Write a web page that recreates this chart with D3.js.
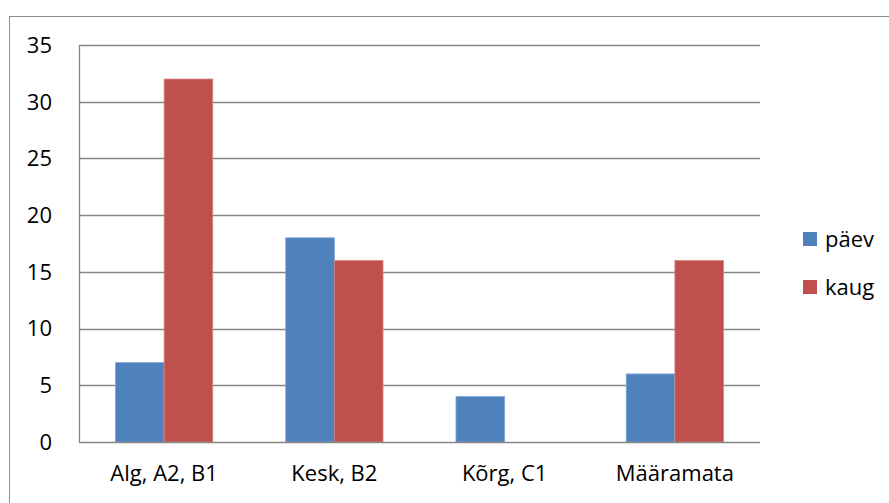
<!DOCTYPE html>
<html>
<head>
<meta charset="utf-8">
<script src="https://cdn.jsdelivr.net/npm/d3@7"></script>
<style>
  body { margin: 0; background: #fff; }
  text { font-family: "Open Sans", "Liberation Sans", sans-serif; fill: #000; }
</style>
</head>
<body>
<div class="container"></div>
<script>
var categories = ["Alg, A2, B1", "Kesk, B2", "Kõrg, C1", "Määramata"];
var seriesNames = ["päev", "kaug"];
var paev = [7, 18, 4, 6];
var kaug = [32, 16, 0, 16];
var yTicks = [0, 5, 10, 15, 20, 25, 30, 35];
var colors = ["#4F81BD", "#C0504D"];

(function(){
  var W = 889, H = 503;
  var plot = {left: 79, right: 760, top: 45, bottom: 442};
  var fs = 22;

  var svg = d3.select(".container").append("svg")
      .attr("width", W).attr("height", H);

  // outer chart frame
  svg.append("rect")
      .attr("x", 9.5).attr("y", 16.5)
      .attr("width", W + 10).attr("height", H + 10)
      .attr("fill", "none").attr("stroke", "#8c8c8c");

  var x0 = d3.scaleBand().domain(categories)
      .range([plot.left, plot.right]).padding(0);
  var barW = x0.bandwidth() / 3.5;
  var x1 = d3.scaleBand().domain(seriesNames)
      .range([0, barW * 2]);
  var y = d3.scaleLinear().domain([0, 35]).range([plot.bottom, plot.top]);

  // grid
  svg.append("g").selectAll("line")
    .data(yTicks.filter(function(d){ return d > 0; }))
    .enter().append("line")
      .attr("x1", plot.left).attr("x2", plot.right)
      .attr("y1", function(d){ return Math.round(y(d)) + 0.5; })
      .attr("y2", function(d){ return Math.round(y(d)) + 0.5; })
      .attr("stroke", "#868686").attr("stroke-width", 1.3);

  var rows = categories.map(function(c, i) {
    return {cat: c, vals: [paev[i], kaug[i]]};
  });

  var groups = svg.append("g").selectAll("g")
    .data(rows)
    .enter().append("g")
      .attr("transform", function(d){
        return "translate(" + (x0(d.cat) + x0.bandwidth() / 2 - barW) + ",0)";
      });

  groups.selectAll("rect")
    .data(function(d){ return d.vals.map(function(v, j){ return {s: seriesNames[j], v: v, j: j}; }); })
    .enter().filter(function(d){ return d.v > 0; }).append("rect")
      .attr("x", function(d){ return x1(d.s); })
      .attr("width", x1.bandwidth())
      .attr("y", function(d){ return y(d.v); })
      .attr("height", function(d){ return y(0) - y(d.v); })
      .attr("fill", function(d){ return colors[d.j]; })
      .attr("stroke", function(d){ return d.j === 0 ? "#7ea4d4" : "#d88582"; })
      .attr("stroke-width", 0.8);

  // axes lines
  svg.append("line")
      .attr("x1", plot.left + 0.5).attr("x2", plot.left + 0.5)
      .attr("y1", plot.top).attr("y2", plot.bottom)
      .attr("stroke", "#868686").attr("stroke-width", 1.3);
  svg.append("line")
      .attr("x1", plot.left).attr("x2", plot.right)
      .attr("y1", Math.round(y(0)) + 0.5).attr("y2", Math.round(y(0)) + 0.5)
      .attr("stroke", "#868686").attr("stroke-width", 1.3);

  // y labels
  svg.append("g").selectAll("text")
    .data(yTicks)
    .enter().append("text")
      .attr("x", 52).attr("y", function(d){ return y(d); })
      .attr("dy", "0.36em")
      .attr("text-anchor", "end")
      .attr("font-size", fs)
      .text(function(d){ return d; });

  // x labels
  svg.append("g").selectAll("text")
    .data(categories)
    .enter().append("text")
      .attr("x", function(d){ return x0(d) + x0.bandwidth() / 2; })
      .attr("y", 481)
      .attr("text-anchor", "middle")
      .attr("font-size", fs)
      .text(function(d){ return d; });

  // legend
  var legend = svg.append("g").selectAll("g")
    .data(seriesNames)
    .enter().append("g")
      .attr("transform", function(d, i){ return "translate(803," + (232 + i * 48) + ")"; });
  legend.append("rect")
      .attr("width", 14).attr("height", 14)
      .attr("fill", function(d, i){ return colors[i]; });
  legend.append("text")
      .attr("x", 22).attr("y", 7).attr("dy", "0.36em")
      .attr("font-size", fs)
      .text(function(d){ return d; });
})();
</script>
</body>
</html>
